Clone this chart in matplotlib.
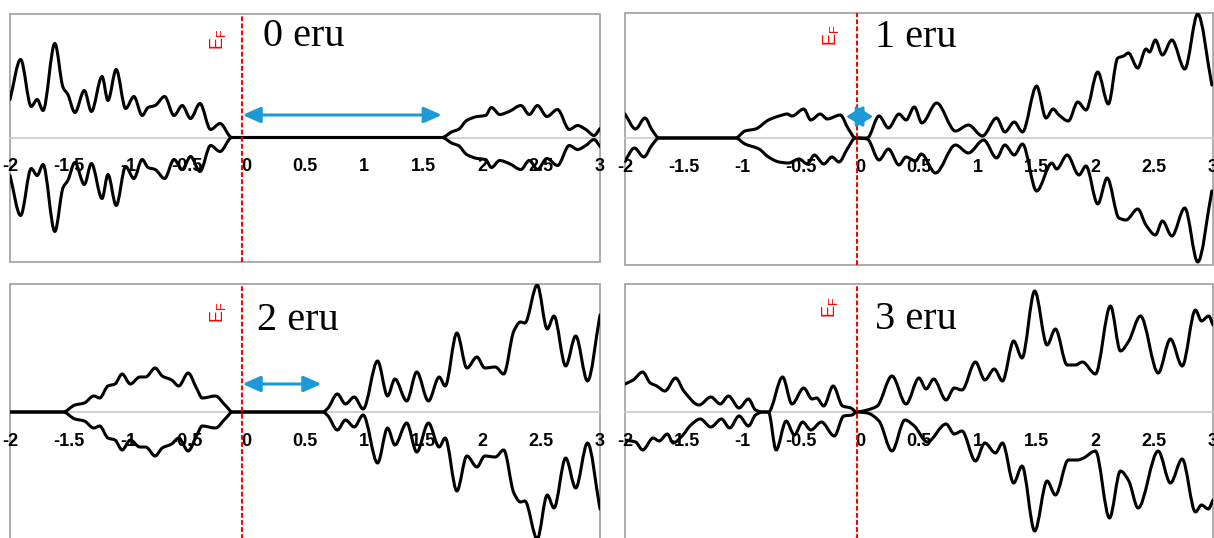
import numpy as np
import matplotlib
matplotlib.use('Agg')
import matplotlib.pyplot as plt
from matplotlib.path import Path
from matplotlib.patches import PathPatch, FancyArrowPatch, Rectangle, ArrowStyle

# energy (eV) and DOS (arb. units)
tick_vals = [-2, -1.5, -1, -0.5, 0, 0.5, 1, 1.5, 2, 2.5, 3]
tick_labels = ['-2', '-1.5', '-1', '-0.5', '0', '0.5', '1', '1.5', '2', '2.5', '3']
panel_names = ['0 eru', '1 eru', '2 eru', '3 eru']

# 0 eru (spin down is the mirror image of spin up)
e0 = [-2.00, -1.91, -1.82, -1.77, -1.72, -1.62, -1.55, -1.51, -1.45, -1.37, -1.31, -1.22,
      -1.17, -1.10, -1.02, -0.95, -0.88, -0.83, -0.77, -0.69, -0.61, -0.54, -0.47, -0.39,
      -0.30, -0.22, -0.12, 1.66, 1.75, 1.80, 1.87, 1.96, 2.03, 2.08, 2.15, 2.23, 2.33,
      2.40, 2.47, 2.55, 2.64, 2.74, 2.81, 2.88, 2.95, 3.00]
up0 = [38, 78, 31, 38, 27, 94, 50, 43, 25, 47, 26, 61,
       37, 68, 29, 41, 22, 30, 32, 41, 22, 32, 19, 34,
       8, 14, 0, 0, 6, 8, 17, 21, 22, 30, 23, 26, 32,
       23, 32, 21, 28, 8, 12, 8, 2, 9]

# 1 eru
e1u = [-2.00, -1.91, -1.83, -1.77, -1.71, -1.06, -0.98, -0.89, -0.78, -0.69, -0.62, -0.58,
       -0.48, -0.42, -0.34, -0.28, -0.17, -0.10, -0.04, 0.06, 0.16, 0.24, 0.33, 0.39,
       0.46, 0.525, 0.65, 0.81, 0.92, 1.04, 1.16, 1.23, 1.31, 1.38, 1.50, 1.58, 1.64,
       1.69, 1.77, 1.85, 1.92, 2.02, 2.11, 2.19, 2.24, 2.28, 2.36, 2.43, 2.46, 2.51,
       2.57, 2.65, 2.76, 2.87, 2.99]
up1 = [24, 9, 20, 8, 0, 0, 7, 9, 18, 22, 24, 22,
       29, 18, 24, 19, 23, 9, 0, 0, 22, 10, 24, 18,
       31, 15, 35, 7, 13, 2, 20, 6, 16, 6, 52, 20, 29,
       23, 17, 36, 28, 66, 34, 80, 82, 85, 70, 89, 86, 98,
       83, 98, 69, 124, 53]
e1d = [-2.00, -1.92, -1.84, -1.77, -1.71, -1.06, -0.98, -0.86, -0.78, -0.69, -0.61, -0.52,
       -0.45, -0.39, -0.31, -0.24, -0.18, -0.11, -0.04, 0.06, 0.16, 0.24, 0.33, 0.39,
       0.47, 0.52, 0.64, 0.81, 0.92, 1.05, 1.16, 1.23, 1.31, 1.38, 1.50, 1.63, 1.67,
       1.76, 1.86, 1.92, 2.02, 2.10, 2.20, 2.26, 2.36, 2.43, 2.51, 2.57, 2.65, 2.76,
       2.87, 2.99]
dn1 = [-23, -10, -19, -7, 0, 0, -6, -11, -19, -24, -25, -21,
       -26, -17, -26, -19, -24, -11, 0, -1, -22, -11, -27, -19,
       -23, -16, -35, -7, -15, -2, -20, -7, -17, -6, -53, -25, -31,
       -17, -37, -28, -66, -40, -80, -82, -71, -87, -97, -83, -98, -70,
       -124, -53]

# 2 eru (spin down is the mirror image of spin up)
e2 = [-2.00, -1.55, -1.45, -1.37, -1.29, -1.24, -1.17, -1.11, -1.05, -0.98, -0.90, -0.85,
      -0.77, -0.71, -0.63, -0.57, -0.49, -0.42, -0.37, -0.26, -0.17, -0.115, 0.653, 0.695,
      0.774, 0.843, 0.917, 0.993, 1.115, 1.20, 1.262, 1.362, 1.447, 1.546, 1.637, 1.688,
      1.787, 1.872, 1.957, 2.023, 2.113, 2.184, 2.27, 2.326, 2.363, 2.468, 2.553, 2.61,
      2.709, 2.794, 2.894, 3.00]
up2 = [0, 0, 7, 9, 16, 14, 26, 28, 38, 28, 35, 35,
       44, 36, 32, 26, 39, 24, 14, 16, 6, 0, 0, 4,
       18, 8, 15, 3, 51, 16, 33, 11, 40, 11, 35, 26,
       79, 44, 55, 44, 45, 38, 81, 90, 89, 127, 83, 96,
       46, 76, 31, 97]

# 3 eru
e3u = [-2.00, -1.93, -1.85, -1.785, -1.73, -1.66, -1.57, -1.50, -1.37, -1.27, -1.19, -1.12,
       -1.03, -0.95, -0.89, -0.83, -0.78, -0.66, -0.58, -0.48, -0.41, -0.37, -0.31, -0.23,
       -0.15, -0.08, -0.03, 0.06, 0.145, 0.27, 0.39, 0.50, 0.56, 0.625, 0.73, 0.80,
       0.865, 0.98, 1.06, 1.14, 1.21, 1.305, 1.376, 1.484, 1.589, 1.66, 1.76, 1.83,
       1.89, 2.00, 2.128, 2.213, 2.284, 2.383, 2.534, 2.638, 2.738, 2.851, 2.902, 2.964, 3.00]
up3 = [28, 32, 40, 29, 26, 21, 34, 21, 7, 15, 8, 16,
       4, 13, 2, 0, 0, 35, 8, 24, 13, 14, 6, 26,
       6, 4, 0, 2, 6, 36, 8, 34, 23, 33, 12, 24,
       22, 50, 32, 43, 31, 71, 54, 121, 67, 83, 47, 47,
       50, 38, 106, 61, 71, 96, 39, 73, 46, 102, 91, 96, 87]
e3d = [-2.00, -1.91, -1.85, -1.76, -1.71, -1.64, -1.59, -1.515, -1.44, -1.36, -1.27, -1.18,
       -1.11, -1.03, -0.95, -0.89, -0.83, -0.78, -0.715, -0.63, -0.56, -0.49, -0.42, -0.33,
       -0.22, -0.14, -0.07, -0.03, 0.06, 0.16, 0.27, 0.38, 0.46, 0.57, 0.73, 0.80,
       0.865, 0.98, 1.06, 1.15, 1.21, 1.305, 1.376, 1.484, 1.589, 1.66, 1.77, 1.85,
       1.90, 2.00, 2.12, 2.213, 2.284, 2.363, 2.534, 2.638, 2.738, 2.851, 2.902, 2.96, 3.00]
dn3 = [-28, -30, -38, -26, -29, -22, -31, -24, -13, -7, -15, -7,
       -16, -4, -14, -3, 0, 0, -38, -9, -23, -10, -18, -10,
       -24, -4, -3, 0, -1, -9, -39, -8, -14, -30, -12, -22,
       -19, -49, -31, -41, -31, -71, -54, -119, -69, -83, -48, -48,
       -46, -39, -106, -59, -69, -96, -39, -71, -47, -100, -93, -97, -88]

# band gap arrows (start, end) in eV, one per panel (None = no arrow)
gaps = [(-0.03, 1.66), (-0.12, 0.11), (-0.03, 0.64), None]
EF_X = -0.03

BLUE = '#1d9ad6'
FRAME = '#a6a6a6'
ZERO = '#c8c8c8'


def smooth_path(xs, ys):
    # smoothed line like a spreadsheet chart: cubic Bezier pieces, no overshoot
    x = np.asarray(xs, float)
    y = np.asarray(ys, float)
    h = np.diff(x)
    d = np.diff(y) / h
    m = np.zeros(len(x))
    m[0], m[-1] = d[0], d[-1]
    for k in range(1, len(x) - 1):
        if d[k - 1] * d[k] > 0:
            w1 = 2 * h[k] + h[k - 1]
            w2 = h[k] + 2 * h[k - 1]
            m[k] = (w1 + w2) / (w1 / d[k - 1] + w2 / d[k])
    verts = [(x[0], y[0])]
    codes = [Path.MOVETO]
    for k in range(len(x) - 1):
        verts += [(x[k] + h[k] / 3, y[k] + m[k] * h[k] / 3),
                  (x[k + 1] - h[k] / 3, y[k + 1] - m[k + 1] * h[k] / 3),
                  (x[k + 1], y[k + 1])]
        codes += [Path.CURVE4] * 3
    return Path(verts, codes)


W, H = 1214, 538
fig = plt.figure(figsize=(W / 100, H / 100), dpi=100)

# axes boxes in pixels: left, right, top, bottom ; and y range
boxes = [(10, 600, 14, 262), (625, 1213, 13, 265), (10, 600, 284, 540), (625, 1213, 284, 540)]
ylims = [(-124.5, 123.5), (-127, 125), (-128, 128), (-128, 128)]
name_pos = [(0.14, 91), (0.125, 91), (0.095, 82), (0.125, 83)]
ef_pos = [(-0.24, 98), (-0.25, 103), (-0.24, 100), (-0.26, 105)]
arrow_y = [22.5, 21.5, 28]
head_len = [0.45, 0.42, 0.45]
head_wid = [0.2, 0.26, 0.2]

curves = [
    [(e0, up0), (e0, [-v for v in up0])],
    [(e1u, up1), (e1d, dn1)],
    [(e2, up2), (e2, [-v for v in up2])],
    [(e3u, up3), (e3d, dn3)],
]

for i, (l, r, t, b) in enumerate(boxes):
    ax = fig.add_axes([l / W, (H - b) / H, (r - l) / W, (b - t) / H])
    ax.set_xlim(-2, 3)
    ax.set_ylim(*ylims[i])
    for s in ['left', 'right', 'top']:
        ax.spines[s].set_visible(False)
    ax.spines['bottom'].set_position(('data', 0))
    ax.spines['bottom'].set_color(ZERO)
    ax.spines['bottom'].set_linewidth(1.2)
    ax.spines['bottom'].set_zorder(1)
    ax.add_patch(Rectangle((0, 0), 1, 1, transform=ax.transAxes, fill=False,
                           ec=FRAME, lw=1.3, clip_on=False, zorder=1))
    ax.set_yticks([])
    ax.set_xticks(tick_vals)
    ax.set_xticklabels(tick_labels, fontweight='bold', fontsize=13, family='Liberation Sans')
    ax.tick_params(axis='x', length=0, pad=15)

    for xs, ys in curves[i]:
        ax.add_patch(PathPatch(smooth_path(xs, ys), fill=False, ec='black', lw=2.2,
                               joinstyle='round', capstyle='round', zorder=3))

    ax.axvline(EF_X, color='#ff0000', lw=1.5, linestyle=(0, (2.3, 1.1)), zorder=4)
    ax.text(ef_pos[i][0], ef_pos[i][1], r'E$_\mathregular{F}$', color='#ff0000',
            rotation=90, ha='center', va='center', fontsize=13, family='Liberation Sans')
    ax.text(name_pos[i][0], name_pos[i][1], panel_names[i], family='Liberation Serif',
            fontsize=29, ha='left', va='baseline')

    if gaps[i] is not None:
        x0, x1 = gaps[i]
        ax.add_patch(FancyArrowPatch((x0, arrow_y[i]), (x1, arrow_y[i]),
                                     arrowstyle=ArrowStyle('<|-|>', head_length=head_len[i],
                                                           head_width=head_wid[i]),
                                     mutation_scale=24, color=BLUE, lw=2.2,
                                     shrinkA=0, shrinkB=0, zorder=5))

fig.savefig('out.png', dpi=100)
